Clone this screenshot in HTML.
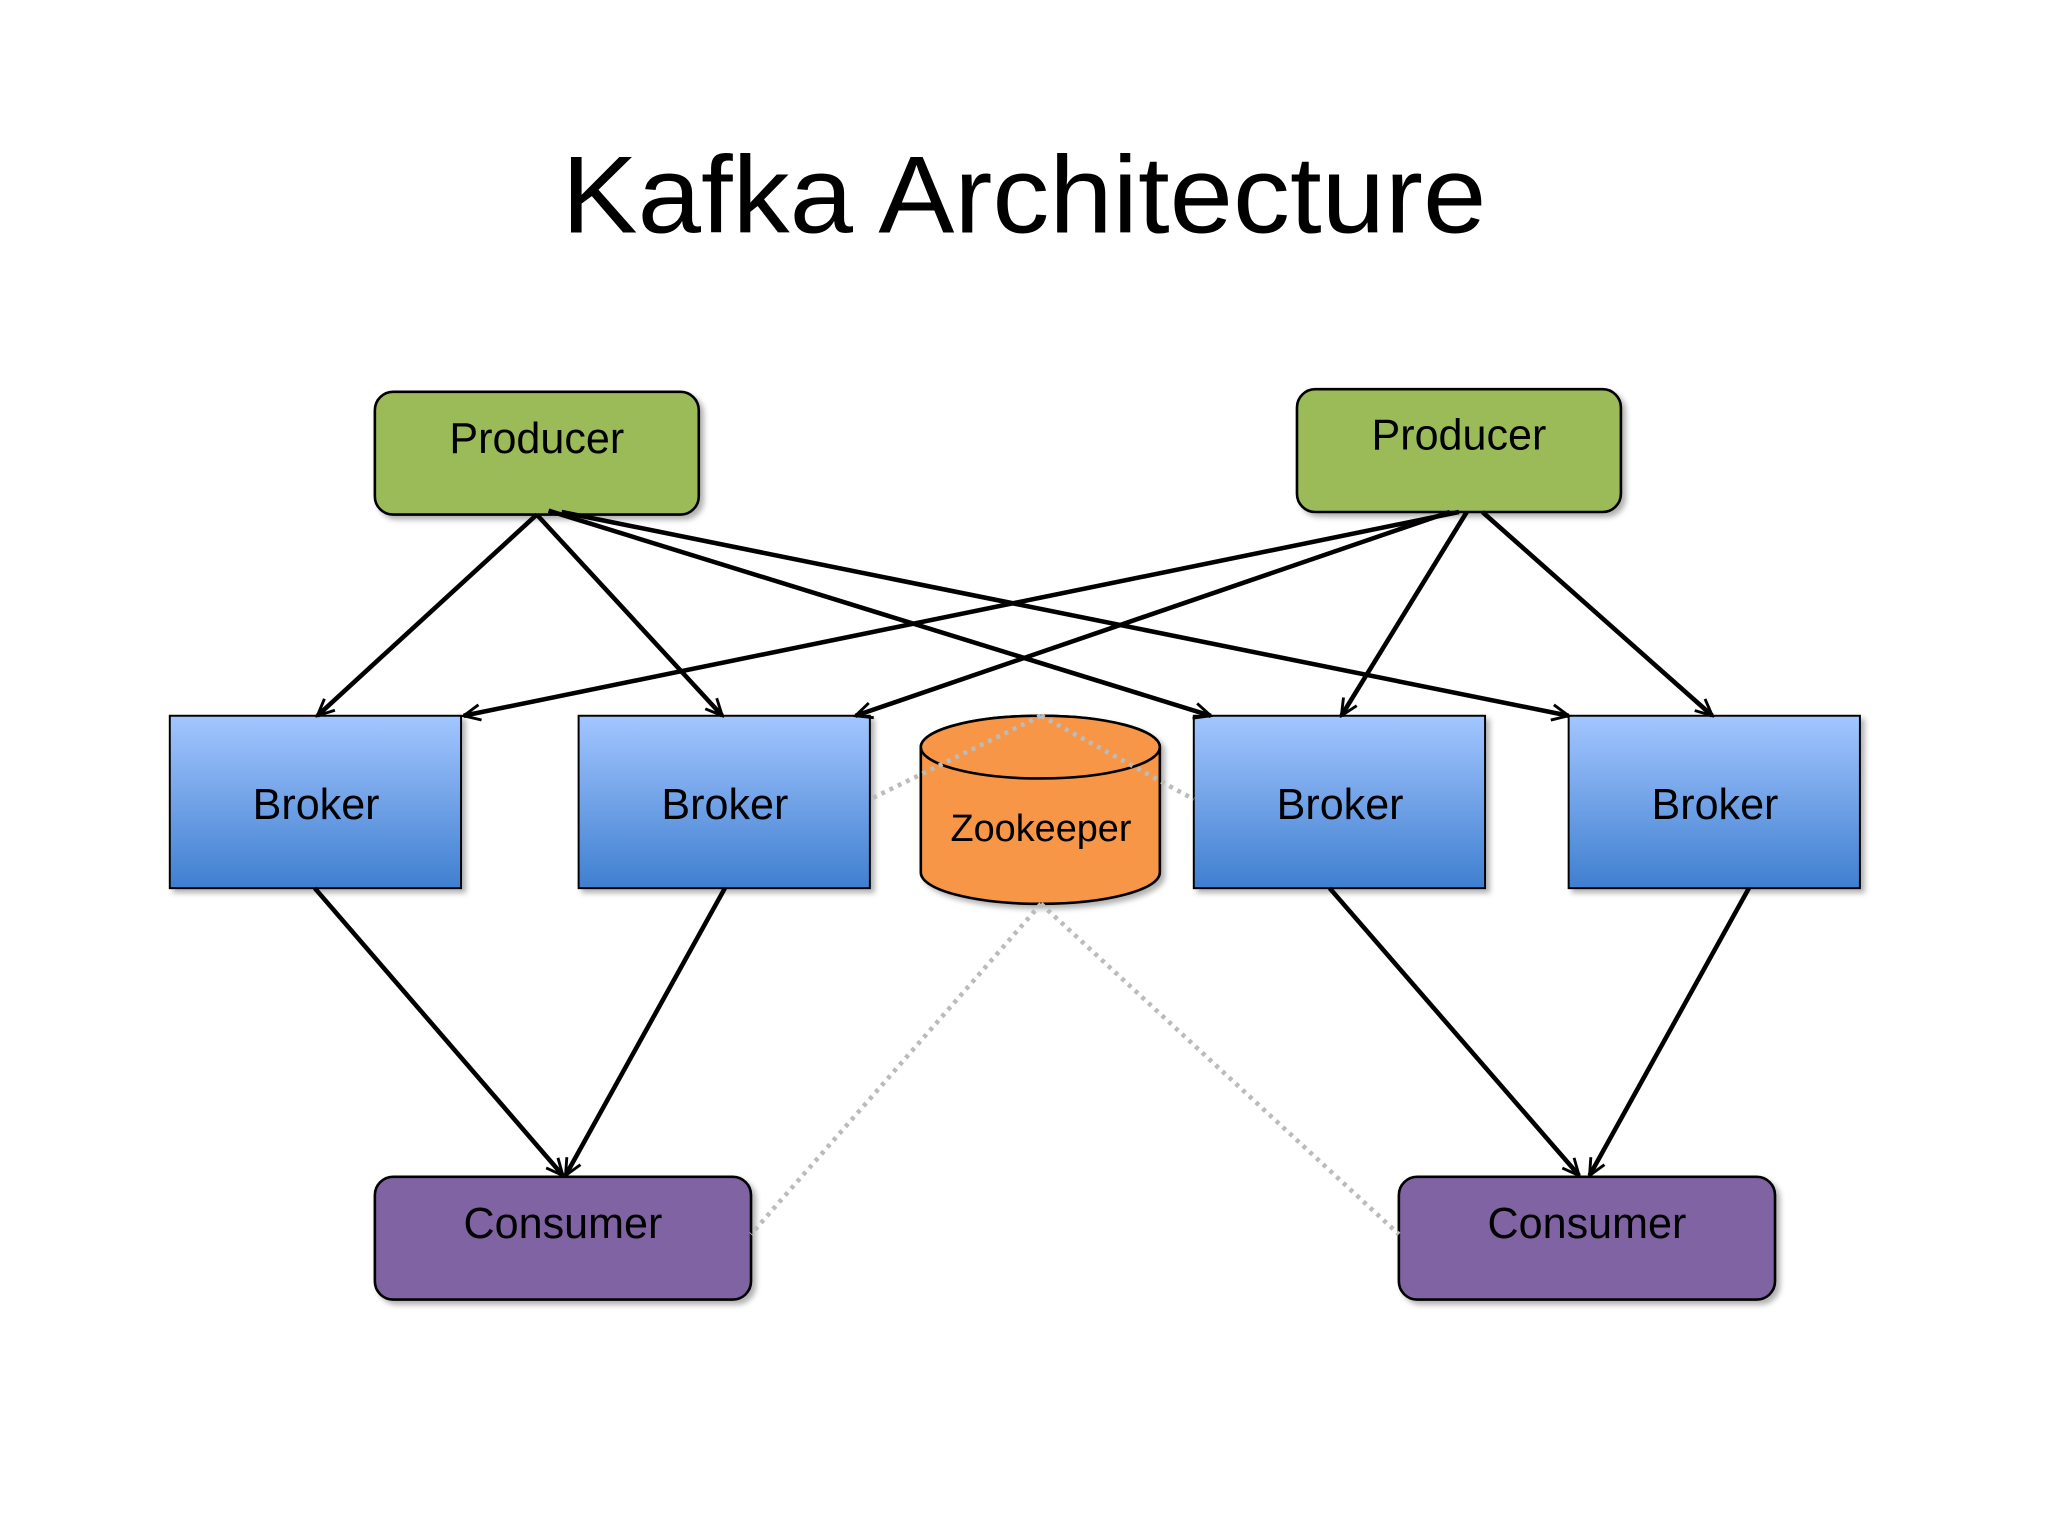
<!DOCTYPE html>
<html><head><meta charset="utf-8"><style>
html,body{margin:0;padding:0;background:#fff;}
svg{display:block;}
text{font-family:"Liberation Sans",sans-serif;fill:#000;}
</style></head><body>
<svg width="2048" height="1536" viewBox="0 0 1568 1176" xmlns="http://www.w3.org/2000/svg">
<defs>
<linearGradient id="bg" x1="0" y1="0" x2="0" y2="1">
<stop offset="0" stop-color="#A3C6FF"/><stop offset="1" stop-color="#3F7FD0"/>
</linearGradient>
<marker id="ah" viewBox="0 0 20 20" refX="18" refY="10" markerWidth="17" markerHeight="17" markerUnits="userSpaceOnUse" orient="auto">
<path d="M3,3 L18,10 L3,17" fill="none" stroke="#000" stroke-width="2.6"/>
</marker>
<filter id="sh" x="-10%" y="-10%" width="130%" height="140%"><feDropShadow dx="3" dy="3" stdDeviation="2" flood-color="#000" flood-opacity="0.3"/></filter>
</defs>
<rect width="1568" height="1176" fill="#fff"/>
<text x="784" y="178" font-size="84" text-anchor="middle" textLength="708" lengthAdjust="spacingAndGlyphs">Kafka Architecture</text>

<g filter="url(#sh)" stroke="#000" stroke-width="2">
<rect x="287" y="300" width="248" height="94" rx="14" fill="#9BBB59"/>
<rect x="993" y="298" width="248" height="94" rx="14" fill="#9BBB59"/>
<rect x="130" y="548" width="223" height="132" fill="url(#bg)" stroke-width="1.5"/>
<rect x="443" y="548" width="223" height="132" fill="url(#bg)" stroke-width="1.5"/>
<rect x="914" y="548" width="223" height="132" fill="url(#bg)" stroke-width="1.5"/>
<rect x="1201" y="548" width="223" height="132" fill="url(#bg)" stroke-width="1.5"/>
<rect x="287" y="901" width="288" height="94" rx="14" fill="#8064A2"/>
<rect x="1071" y="901" width="288" height="94" rx="14" fill="#8064A2"/>
<path d="M705,572 L705,668 A91.5,24 0 0 0 888,668 L888,572 A91.5,24 0 0 0 705,572 Z" fill="#F79646"/>
<ellipse cx="796.5" cy="572" rx="91.5" ry="24" fill="#F79646"/>
</g>

<g stroke="#bbb" stroke-width="3.5" stroke-dasharray="3,4" fill="none">
<line x1="797" y1="548" x2="666" y2="612"/>
<line x1="797" y1="548" x2="914" y2="612"/>
<line x1="797" y1="692" x2="575" y2="945"/>
<line x1="797" y1="692" x2="1071" y2="945"/>
</g>

<g stroke="#000" stroke-width="3.5" fill="none" marker-end="url(#ah)">
<line x1="411" y1="394" x2="243" y2="548"/>
<line x1="411" y1="394" x2="553" y2="548"/>
<line x1="420" y1="391" x2="927" y2="548"/>
<line x1="430" y1="392" x2="1201" y2="548"/>
<line x1="1117" y1="392" x2="355" y2="548"/>
<line x1="1110" y1="392" x2="655" y2="548"/>
<line x1="1123" y1="392" x2="1027" y2="548"/>
<line x1="1135" y1="392" x2="1311" y2="548"/>
<line x1="241" y1="680" x2="431" y2="900"/>
<line x1="555" y1="680" x2="433" y2="900"/>
<line x1="1018" y1="680" x2="1209" y2="900"/>
<line x1="1339" y1="680" x2="1217" y2="900"/>
</g>

<g font-size="33" text-anchor="middle">
<text x="411" y="347">Producer</text>
<text x="1117" y="344">Producer</text>
<text x="242" y="627">Broker</text>
<text x="555" y="627">Broker</text>
<text x="1026" y="627">Broker</text>
<text x="1313" y="627">Broker</text>
<text x="431" y="948">Consumer</text>
<text x="1215" y="948">Consumer</text>
<text x="797" y="644" font-size="29">Zookeeper</text>
</g>
</svg>
</body></html>
